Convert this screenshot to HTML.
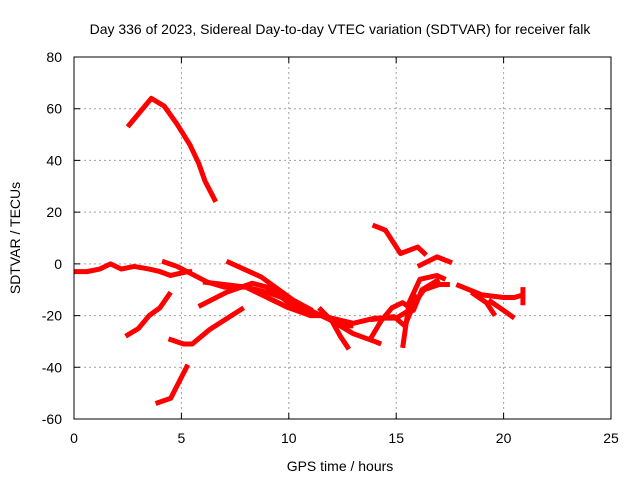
<!DOCTYPE html>
<html><head><meta charset="utf-8"><style>
body{margin:0;background:#fff;}
svg{display:block;font-family:"Liberation Sans",sans-serif;}
</style></head><body>
<svg id="chart" width="640" height="480">
<rect x="0" y="0" width="640" height="480" fill="#fff"/>
<text x="340" y="34" font-size="14" text-anchor="middle">Day 336 of 2023, Sidereal Day-to-day VTEC variation (SDTVAR) for receiver falk</text>
<g id="grid"></g>
<g id="series"></g>
<rect x="74" y="57" width="537" height="362" fill="none" stroke="#000" stroke-width="1"/>
<g id="ticks"></g>
<text x="340" y="471" font-size="14" text-anchor="middle">GPS time / hours</text>
<text x="20" y="238" font-size="14" text-anchor="middle" transform="rotate(-90 20 238)">SDTVAR / TECUs</text>
</svg>
<script>
const xTicks=[0,5,10,15,20,25];
const yTicks=[-60,-40,-20,0,20,40,60,80];
const track1=[[2.5,53],[3,58],[3.6,64],[4.2,61],[4.8,54],[5.4,46],[5.8,39],[6.1,32],[6.6,24]];
const track2=[[0,-3],[0.6,-3],[1.2,-2],[1.7,0],[2.2,-2],[2.8,-1],[3.5,-2],[4,-3],[4.5,-4.5],[5.3,-3],[5.5,-3]];
const track3=[[4.1,1],[4.8,-1],[5.5,-4],[6.2,-7],[7,-9],[8,-9],[9,-11],[10,-14],[11,-18],[12,-22],[12.5,-24],[13,-24]];
const track4=[[7.1,1],[8.7,-5],[10.2,-14],[11.1,-18]];
const track5=[[5.8,-16.5],[7.1,-11],[8.3,-7.5],[9,-9],[10,-15],[11,-19]];
const track6=[[6,-7],[7,-8],[8,-9],[9,-13],[10,-17]];
const track7=[[2.4,-28],[3,-25],[3.5,-20],[4,-17],[4.5,-11]];
const track8=[[4.4,-29],[5.1,-31],[5.5,-31],[6.3,-25.5],[7.9,-17]];
const track9=[[3.8,-54],[4.5,-52],[5.3,-39]];
const track10=[[9,-13],[10,-17],[11,-20],[11.5,-20],[12,-21],[13,-23],[14,-21],[15,-21],[15.6,-18],[16.3,-10],[17,-8],[17.5,-8]];
const track11=[[11.4,-17],[12,-22],[12.4,-28],[12.8,-33]];
const track12=[[12,-22],[13,-27],[14,-30],[14.3,-31]];
const track13=[[13.8,-29],[14.3,-22],[14.8,-17],[15.3,-15],[15.8,-18],[16.2,-10],[17,-6]];
const track14=[[13.8,-21.6],[14.9,-20.4],[15.4,-24],[16,-12]];
const track15=[[15.3,-32.5],[15.6,-15],[16.1,-6],[16.9,-4.5],[17.3,-6]];
const track16=[[13.9,15],[14.5,13],[15.2,4],[16,6.5],[16.4,3.4]];
const track17=[[16,-1],[16.9,2.7],[17.6,0.4]];
const track18=[[17.8,-8],[19,-12],[20,-13],[20.5,-13],[20.9,-12]];
const track19=[[18.5,-11],[19.2,-15],[19.6,-20]];
const track20=[[19.3,-14],[20,-18],[20.5,-21]];
const track21=[[20.9,-9],[20.9,-16]];
const tracks=[track1,track2,track3,track4,track5,track6,track7,track8,track9,track10,track11,track12,track13,track14,track15,track16,track17,track18,track19,track20,track21];
const NS="http://www.w3.org/2000/svg";
const X=h=>74+h*(537/25);
const Y=v=>419-(v+60)*(362/140);
const grid=document.getElementById('grid'),ticks=document.getElementById('ticks'),series=document.getElementById('series');
xTicks.forEach(t=>{
 if(t>0&&t<25){const l=document.createElementNS(NS,'line');
 
 
 l.setAttribute('x1',X(t));l.setAttribute('x2',X(t));l.setAttribute('y1',57);l.setAttribute('y2',419);
 l.setAttribute('stroke','#a0a0a0');l.setAttribute('stroke-dasharray','2,3');grid.appendChild(l);}
 const tk=document.createElementNS(NS,'path');
 
 
 tk.setAttribute('d',`M${X(t)} 419v-6M${X(t)} 57v6`);tk.setAttribute('stroke','#000');ticks.appendChild(tk);
 const tx=document.createElementNS(NS,'text');
 
 
 tx.setAttribute('x',X(t));tx.setAttribute('y',443);tx.setAttribute('font-size','14');tx.setAttribute('text-anchor','middle');tx.textContent=t;ticks.appendChild(tx);
});
yTicks.forEach(t=>{
 if(t>-60&&t<80){const l=document.createElementNS(NS,'line');
 
 
 l.setAttribute('y1',Y(t));l.setAttribute('y2',Y(t));l.setAttribute('x1',74);l.setAttribute('x2',611);
 l.setAttribute('stroke','#a0a0a0');l.setAttribute('stroke-dasharray','2,3');grid.appendChild(l);}
 const tk=document.createElementNS(NS,'path');
 
 
 tk.setAttribute('d',`M74 ${Y(t)}h6M611 ${Y(t)}h-6`);tk.setAttribute('stroke','#000');ticks.appendChild(tk);
 const tx=document.createElementNS(NS,'text');
 
 
 tx.setAttribute('x',62);tx.setAttribute('y',Y(t)+5);tx.setAttribute('font-size','14');tx.setAttribute('text-anchor','end');tx.textContent=t;ticks.appendChild(tx);
});
tracks.forEach(tr=>{
 const p=document.createElementNS(NS,'polyline');
 
 
 p.setAttribute('points',tr.map(d=>X(d[0])+','+Y(d[1])).join(' '));
 p.setAttribute('fill','none');p.setAttribute('stroke','#ff0000');p.setAttribute('stroke-width','5');p.setAttribute('stroke-linejoin','round');
 series.appendChild(p);
});
</script>
</body></html>
